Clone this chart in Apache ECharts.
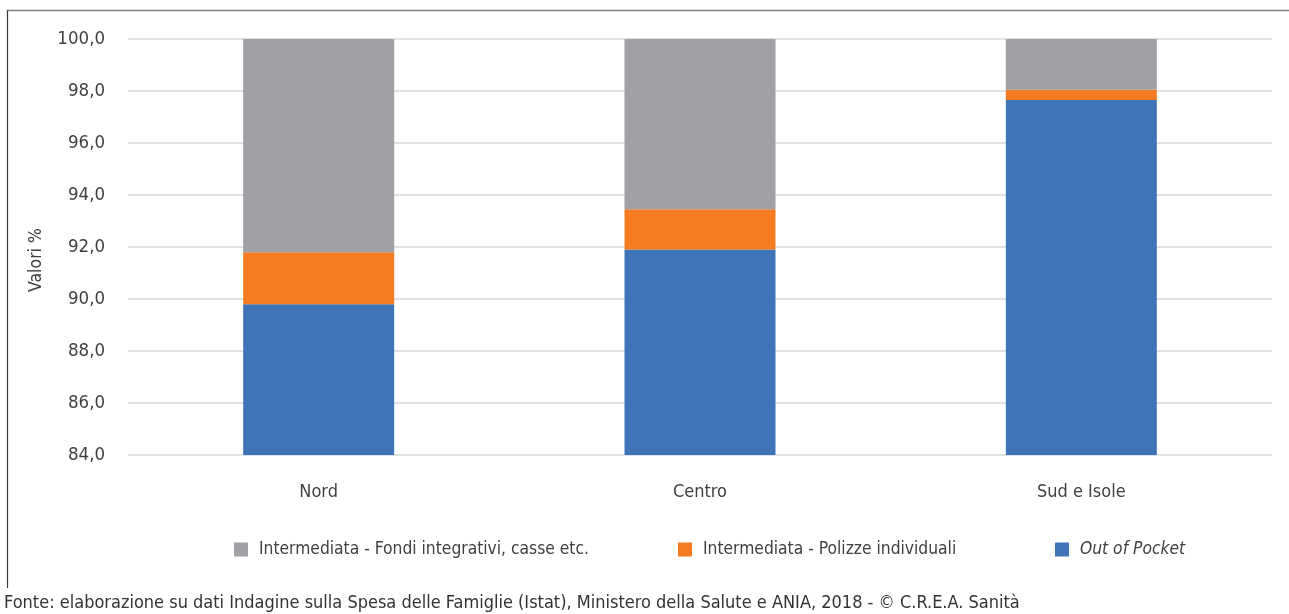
<!DOCTYPE html>
<html>
<head>
<meta charset="utf-8">
<script src="https://cdn.jsdelivr.net/npm/echarts@6/dist/echarts.min.js"></script>
<style>
html,body{margin:0;padding:0;background:#fff;}
#chart{width:1289px;height:614px;}
</style>
</head>
<body>
<div id="chart"></div>
<script>
const categories = ['Nord', 'Centro', 'Sud e Isole'];
const outOfPocket = [89.8, 91.9, 97.65];
const polizze = [2.0, 1.55, 0.4];
const fondi = [8.2, 6.55, 1.95];
const seriesNames = ['Intermediata - Fondi integrativi, casse etc.', 'Intermediata - Polizze individuali', 'Out of Pocket'];
const yMin = 84, yMax = 100, yStep = 2;

const FONT = '"Liberation Sans Narrow", "DejaVu Sans Condensed", "Arial Narrow", sans-serif';
const TXT = '#404040';
const colors = { fondi: '#a0a1a4', polizze: '#f47b20', oop: '#4074b9' };

const chart = echarts.init(document.getElementById('chart'), null, { renderer: 'canvas' });

function legendAt(left, name, italic) {
  return {
    left: left, top: 536, orient: 'horizontal',
    itemWidth: 14, itemHeight: 14, itemGap: 10, icon: 'rect',
    data: [{ name: name, textStyle: italic ? { fontStyle: 'italic' } : {} }],
    textStyle: { fontFamily: FONT, fontSize: 17.3, color: TXT, padding: [0, 0, 0, 6] },
    selectedMode: false
  };
}

chart.setOption({
  animation: false,
  textStyle: { fontFamily: FONT },
  grid: { left: 128, right: 17, top: 39, bottom: 159, containLabel: false },
  legend: [
    legendAt(229, seriesNames[0], false),
    legendAt(673, seriesNames[1], false),
    legendAt(1050, seriesNames[2], true)
  ],
  xAxis: {
    type: 'category', data: categories,
    axisLine: { show: false }, axisTick: { show: false },
    axisLabel: { fontFamily: FONT, fontSize: 18, color: TXT, margin: 28 }
  },
  yAxis: {
    type: 'value', min: yMin, max: yMax, interval: yStep,
    name: 'Valori %', nameLocation: 'middle', nameGap: 83, nameRotate: 90,
    nameTextStyle: { fontFamily: FONT, fontSize: 17.5, color: TXT, padding: [0, 0, 0, -26] },
    axisLine: { show: false }, axisTick: { show: false },
    axisLabel: {
      fontFamily: FONT, fontSize: 18.5, color: TXT, margin: 23,
      formatter: v => v.toFixed(1).replace('.', ',')
    },
    splitLine: { lineStyle: { color: '#d9d9d9', width: 1.6 } }
  },
  series: [
    { name: seriesNames[2], type: 'bar', stack: 'tot', data: outOfPocket, barWidth: 151, itemStyle: { color: colors.oop } },
    { name: seriesNames[1], type: 'bar', stack: 'tot', data: polizze, barWidth: 151, itemStyle: { color: colors.polizze } },
    { name: seriesNames[0], type: 'bar', stack: 'tot', data: fondi, barWidth: 151, itemStyle: { color: colors.fondi } }
  ],
  graphic: [
    { type: 'line', shape: { x1: 7, y1: 10.5, x2: 1289, y2: 10.5 }, style: { stroke: '#7f7f7f', lineWidth: 1.5 }, silent: true },
    { type: 'line', shape: { x1: 7.5, y1: 10, x2: 7.5, y2: 588 }, style: { stroke: '#3a3a3a', lineWidth: 1.2 }, silent: true },
    { type: 'text', left: 4, top: 594, style: { text: 'Fonte: elaborazione su dati Indagine sulla Spesa delle Famiglie (Istat), Ministero della Salute e ANIA, 2018 - © C.R.E.A. Sanità', fontFamily: FONT, fontSize: 18, fill: '#333' } }
  ]
});
</script>
</body>
</html>
